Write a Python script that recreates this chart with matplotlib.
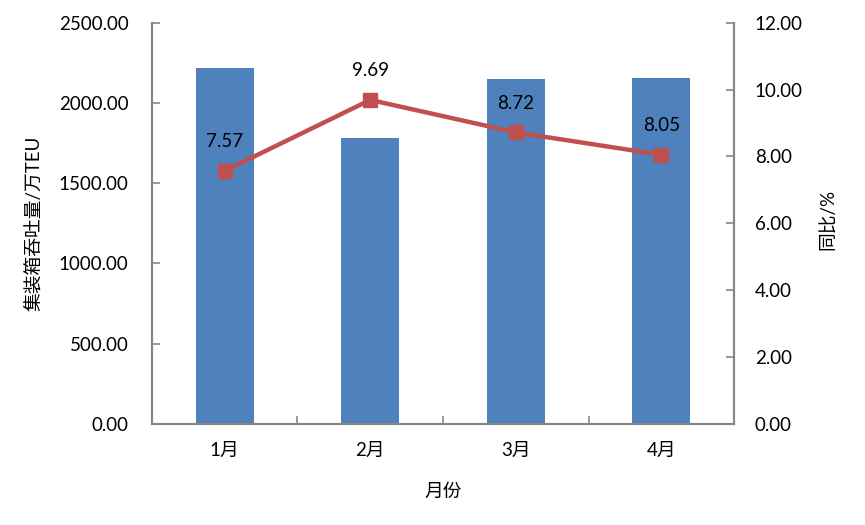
import numpy as np
import matplotlib.pyplot as plt

plt.rcParams['font.family'] = ['Lato', 'Noto Sans CJK SC', 'DejaVu Sans']

meses = ['1月', '2月', '3月', '4月']
throughput = [2218, 1782, 2149, 2156]      # 万TEU
yoy = [7.57, 9.69, 8.72, 8.05]             # %

color_bar = '#4F81BD'
color_line = '#C0504D'
color_axis = '#868686'

fig = plt.figure(figsize=(8.65, 5.25), dpi=100)
ax = fig.add_axes([0.1757, 0.1924, 0.6729, 0.7644])
ax2 = ax.twinx()

x = np.arange(len(meses))
ax.bar(x, throughput, width=0.4, color=color_bar, zorder=2)
ax.set_xlim(-0.5, len(meses) - 0.5)
ax.set_ylim(0, 2500)
ax.set_yticks(np.arange(0, 2501, 500))
ax.set_yticklabels([f'{v:.2f}' for v in np.arange(0, 2501, 500)])

ax2.plot(x, yoy, color=color_line, lw=3.2, marker='s', markersize=10,
         markerfacecolor=color_line, markeredgecolor=color_line, zorder=3)
ax2.set_ylim(0, 12)
ax2.set_yticks(np.arange(0, 12.1, 2))
ax2.set_yticklabels([f'{v:.2f}' for v in np.arange(0, 12.1, 2)])
for xi, v in zip(x, yoy):
    ax2.annotate(f'{v:.2f}', (xi, v), xytext=(0, 21), textcoords='offset points',
                 ha='center', va='center', fontsize=13.5, color='black')

# category ticks: labels at centers, tick marks at boundaries
ax.set_xticks(x)
ax.set_xticklabels(meses, fontsize=13.5)
ax.set_xticks(np.arange(0.5, len(meses) - 0.5, 1), minor=True)
ax.tick_params(axis='x', which='major', direction='in', length=4, color=color_axis, pad=13)
ax.tick_params(axis='x', which='minor', direction='in', length=6, color=color_axis, width=1.2)
ax.tick_params(axis='y', direction='in', length=6, color=color_axis, width=1.2,
               labelsize=13.5, pad=17)
ax2.tick_params(axis='y', direction='in', length=6, color=color_axis, width=1.2,
                labelsize=13.5, pad=15)

for a in (ax, ax2):
    a.spines['top'].set_visible(False)
    for s in ('left', 'right', 'bottom'):
        a.spines[s].set_color(color_axis)
        a.spines[s].set_linewidth(1.5)

ax.set_ylabel('集装箱吞吐量/万TEU', fontsize=13.5)
ax.yaxis.set_label_coords(-0.188, 0.5)
ax2.set_ylabel('同比/%', fontsize=13.5, rotation=90)
ax2.yaxis.set_label_coords(1.148, 0.51)
ax.set_xlabel('月份', fontsize=13.5)
ax.xaxis.set_label_coords(0.5, -0.148)

fig.savefig('out.png', dpi=100)
